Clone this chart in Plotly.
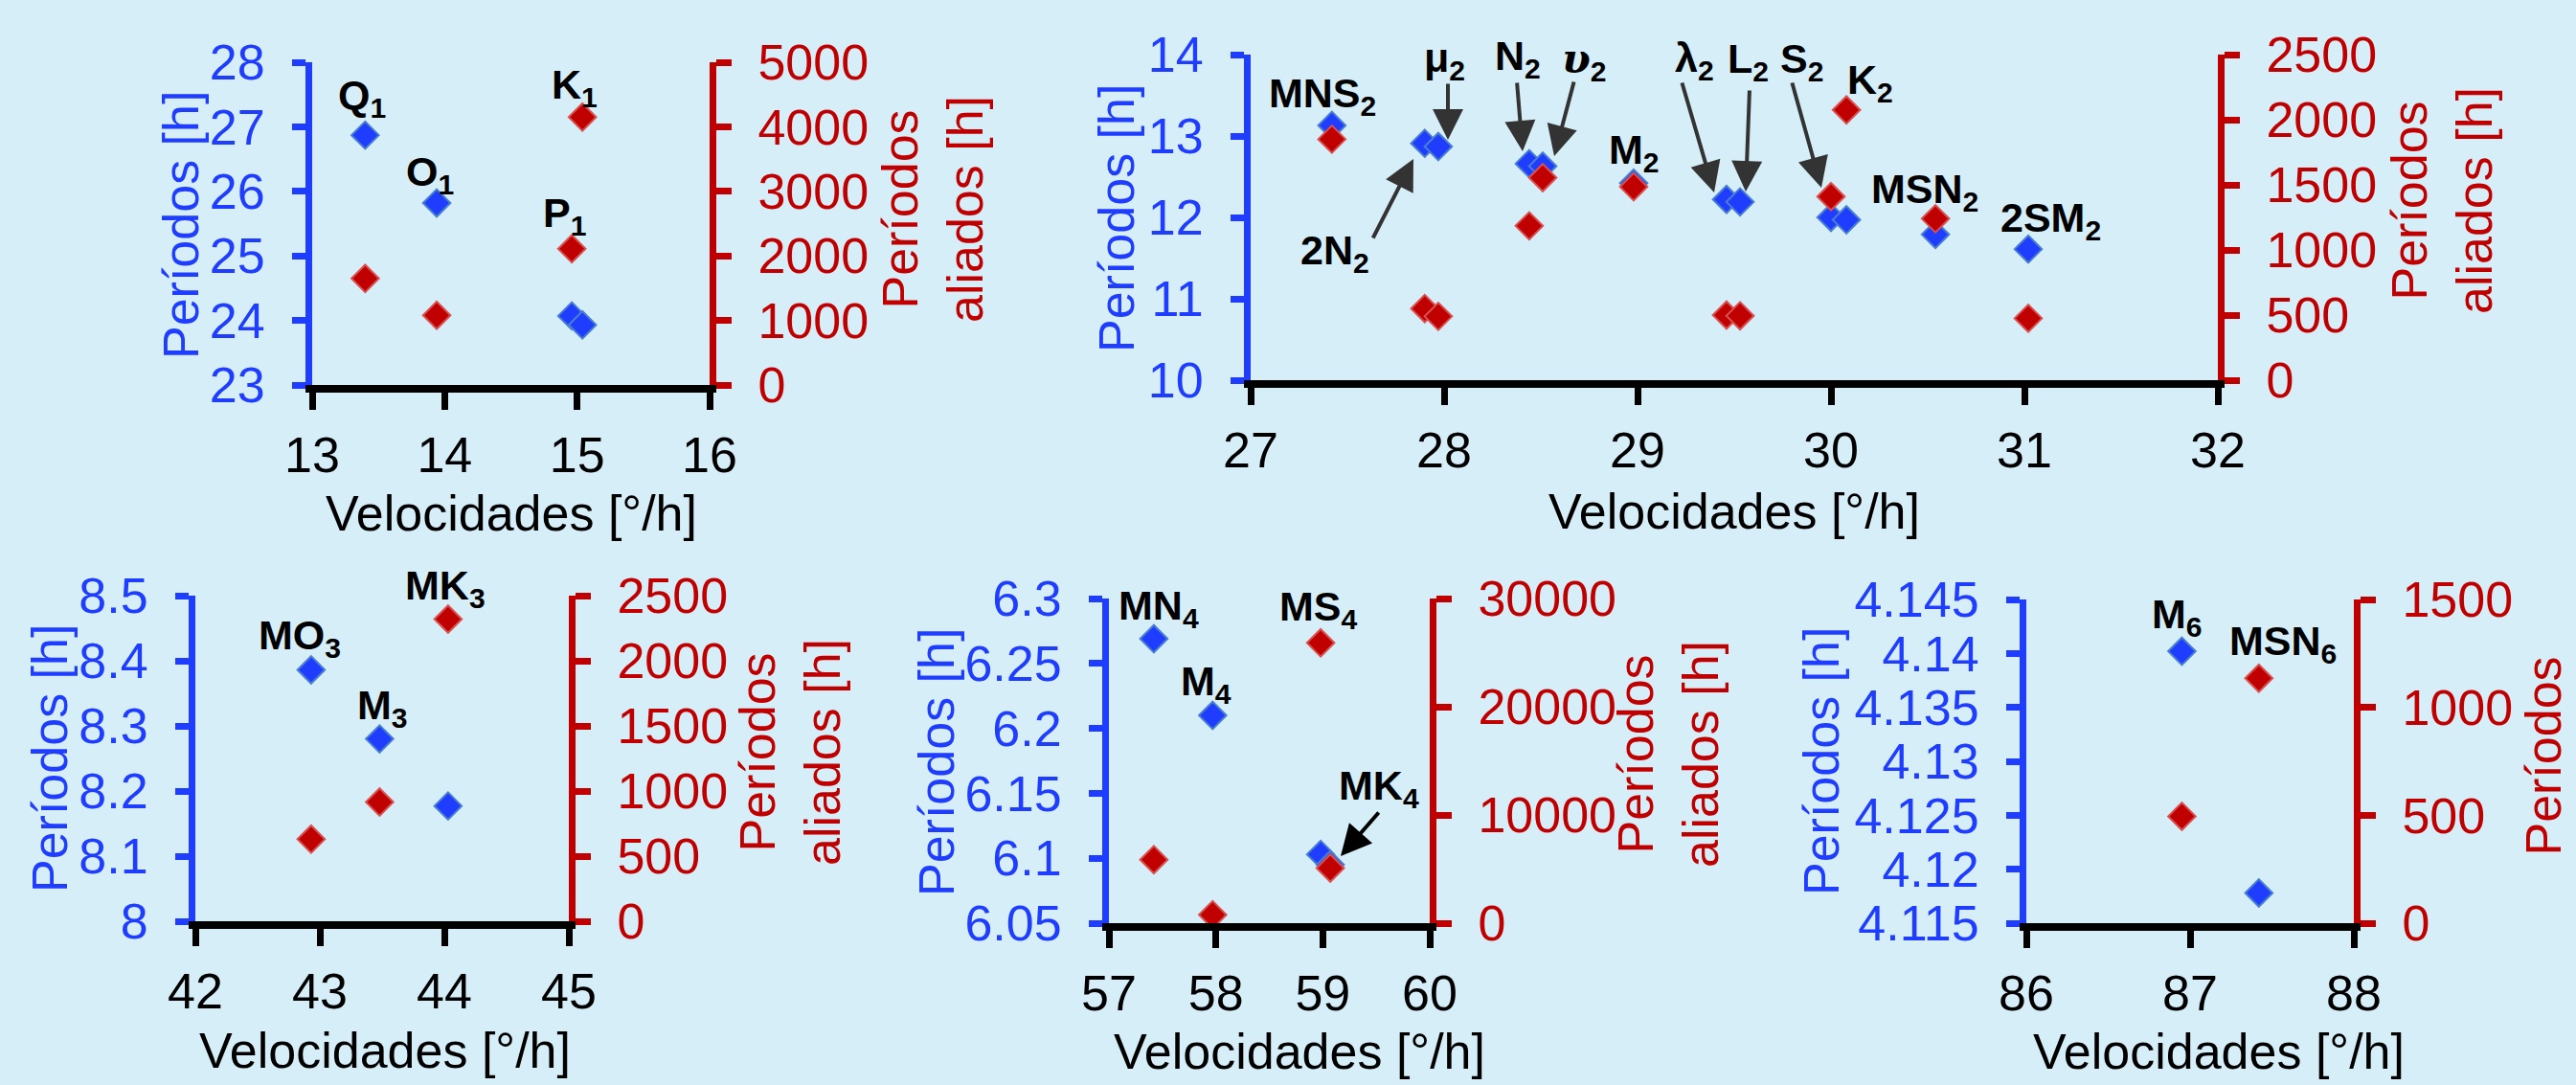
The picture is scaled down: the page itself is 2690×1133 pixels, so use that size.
import plotly.graph_objects as go

W, H = 2690, 1133
BG = '#d6eef8'
BLUE = '#1f3dff'
BLUE_EDGE = '#4a7fd0'
RED = '#c00000'
RED_EDGE = '#d85050'
FONT = 'Arial, Liberation Sans, sans-serif'

# ---------------- data ----------------
# Panel 1: diurnal
p1_names = ['Q<sub>1</sub>', 'O<sub>1</sub>', 'P<sub>1</sub>', 'K<sub>1</sub>']
p1_speed = [13.40, 13.94, 14.96, 15.04]
p1_period = [26.87, 25.82, 24.07, 23.93]
p1_alias = [1650, 1080, 2110, 4150]

# Panel 2: semidiurnal
p2_names = ['MNS<sub>2</sub>', '2N<sub>2</sub>', 'μ<sub>2</sub>', 'N<sub>2</sub>',
            '<span style="font-family:DejaVu Serif"><i>υ</i></span><sub>2</sub>',
            'M<sub>2</sub>', 'λ<sub>2</sub>', 'L<sub>2</sub>', 'S<sub>2</sub>', 'K<sub>2</sub>',
            'MSN<sub>2</sub>', '2SM<sub>2</sub>']
p2_speed = [27.42, 27.90, 27.97, 28.44, 28.51, 28.98, 29.46, 29.53, 30.00, 30.08, 30.54, 31.02]
p2_period = [13.13, 12.91, 12.87, 12.66, 12.63, 12.42, 12.22, 12.19, 12.00, 11.97, 11.79, 11.61]
p2_alias = [1850, 550, 490, 1185, 1555, 1485, 500, 495, 1410, 2075, 1240, 475]

# Panel 3: terdiurnal
p3_names = ['MO<sub>3</sub>', 'M<sub>3</sub>', 'MK<sub>3</sub>']
p3_speed = [42.93, 43.48, 44.03]
p3_period = [8.386, 8.280, 8.177]
p3_alias = [630, 915, 2320]

# Panel 4: quarter-diurnal
p4_names = ['MN<sub>4</sub>', 'M<sub>4</sub>', 'MS<sub>4</sub>', 'MK<sub>4</sub>']
p4_speed = [57.42, 57.97, 58.98, 59.07]
p4_period = [6.269, 6.210, 6.103, 6.095]
p4_alias = [5870, 780, 25900, 5090]

# Panel 5: sixth-diurnal
p5_names = ['M<sub>6</sub>', 'MSN<sub>6</sub>']
p5_speed = [86.95, 87.42]
p5_period = [4.1402, 4.1178]
p5_alias = [495, 1135]

x_title = 'Velocidades [°/h]'
yl_title = 'Períodos [h]'
yr_title = 'Períodos<br>aliados [h]'

panels = [
    dict(speed=p1_speed, period=p1_period, alias=p1_alias,
         xr=[13, 16], xd=1, yr=[23, 28], yd=1, rr=[0, 5000], rd=1000,
         dom_px=(326, 741, 65, 402)),
    dict(speed=p2_speed, period=p2_period, alias=p2_alias,
         xr=[27, 32], xd=1, yr=[10, 14], yd=1, rr=[0, 2500], rd=500,
         dom_px=(1306, 2316, 57, 397)),
    dict(speed=p3_speed, period=p3_period, alias=p3_alias,
         xr=[42, 45], xd=1, yr=[8, 8.5], yd=0.1, rr=[0, 2500], rd=500,
         dom_px=(204, 594, 622, 962)),
    dict(speed=p4_speed, period=p4_period, alias=p4_alias,
         xr=[57, 60], xd=1, yr=[6.05, 6.3], yd=0.05, rr=[0, 30000], rd=10000,
         dom_px=(1158, 1493, 625, 964)),
    dict(speed=p5_speed, period=p5_period, alias=p5_alias,
         xr=[86, 88], xd=1, yr=[4.115, 4.145], yd=0.005, rr=[0, 1500], rd=500,
         dom_px=(2116, 2458, 626, 964)),
]

# layout positions for texts (pixel centres)
label_pos = [
    [(378, 102), (449, 182), (589, 225), (600, 91)],
    [(1381, 100), (1394, 264), (1508, 63), (1585, 61), (1654, 64), (1706, 159),
     (1769, 63), (1825, 64), (1881, 64), (1953, 86), (2010, 200), (2141, 230)],
    [(313, 666), (399, 739), (465, 614)],
    [(1210, 635), (1259, 714), (1377, 636), (1440, 823)],
    [(2273, 644), (2384, 672)],
]
# arrows: (tail_x, tail_y, head_x, head_y, colour)
arrows = [
    (1433, 250, 1476, 166, '#333333'),
    (1512, 86, 1512, 146, '#333333'),
    (1584, 85, 1590, 158, '#333333'),
    (1644, 84, 1623, 163, '#333333'),
    (1756, 85, 1790, 201, '#333333'),
    (1827, 93, 1823, 200, '#333333'),
    (1871, 85, 1902, 196, '#333333'),
    (1441, 847, 1400, 894, '#000000'),
]
xtitle_pos = [(534, 536), (1811, 534), (402, 1097), (1357, 1098), (2317, 1098)]
yl_pos = [(189, 235), (1166, 228), (52, 792), (978, 796), (1902, 795)]
yr_pos = [(974, 219), (2550, 210), (825, 786), (1742, 788), (2690, 790)]


def px(x, y):
    return x / W, 1 - y / H


fig = go.Figure()
layout = dict(
    width=W, height=H, margin=dict(l=0, r=0, t=0, b=0, pad=0, autoexpand=False),
    paper_bgcolor=BG, plot_bgcolor=BG, showlegend=False,
    font=dict(family=FONT, size=52, color='black'),
)
annotations = []

for i, p in enumerate(panels):
    k = i + 1
    xa = 'x' if k == 1 else f'x{k}'
    yb_n = 2 * k - 1
    yr_n = 2 * k
    yb = 'y' if yb_n == 1 else f'y{yb_n}'
    yr = f'y{yr_n}'
    x0, x1, yt, ybm = p['dom_px']
    xdom = [x0 / W, x1 / W]
    ydom = [1 - ybm / H, 1 - yt / H]

    fig.add_trace(go.Scatter(
        x=p['speed'], y=p['period'], xaxis=xa, yaxis=yb, mode='markers',
        marker=dict(symbol='diamond', size=22, color=BLUE,
                    line=dict(color=BLUE_EDGE, width=2)),
        cliponaxis=False))
    fig.add_trace(go.Scatter(
        x=p['speed'], y=p['alias'], xaxis=xa, yaxis=yr, mode='markers',
        marker=dict(symbol='diamond', size=22, color=RED,
                    line=dict(color=RED_EDGE, width=2)),
        cliponaxis=False))

    xkey = 'xaxis' if k == 1 else f'xaxis{k}'
    ybkey = 'yaxis' if yb_n == 1 else f'yaxis{yb_n}'
    yrkey = f'yaxis{yr_n}'
    layout[xkey] = dict(
        domain=xdom, range=p['xr'], dtick=p['xd'], tick0=p['xr'][0],
        anchor=yb, showgrid=False, zeroline=False, automargin=False,
        showline=True, linecolor='black', linewidth=8,
        ticks='outside', ticklen=18, tickwidth=7, tickcolor='black',
        tickfont=dict(size=52, color='black', family=FONT),
        tickformat='d', ticklabelstandoff=3)
    layout[ybkey] = dict(
        domain=ydom, range=p['yr'], dtick=p['yd'], tick0=p['yr'][0],
        anchor=xa, showgrid=False, zeroline=False, automargin=False,
        showline=True, linecolor=BLUE, linewidth=7,
        ticks='outside', ticklen=14, tickwidth=7, tickcolor=BLUE,
        tickfont=dict(size=52, color=BLUE, family=FONT),
        exponentformat='none', ticklabelstandoff=18)
    layout[yrkey] = dict(
        domain=ydom, range=p['rr'], dtick=p['rd'], tick0=0,
        anchor=xa, overlaying=yb, side='right', showgrid=False, zeroline=False,
        automargin=False,
        showline=True, linecolor=RED, linewidth=7,
        ticks='outside', ticklen=16, tickwidth=7, tickcolor=RED,
        tickfont=dict(size=52, color=RED, family=FONT),
        tickformat='d', ticklabelstandoff=17)

    # axis titles
    tx, ty = px(*xtitle_pos[i])
    annotations.append(dict(text=x_title, x=tx, y=ty, xref='paper', yref='paper',
                            showarrow=False, xanchor='center', yanchor='middle',
                            font=dict(size=52, color='black', family=FONT)))
    tx, ty = px(*yl_pos[i])
    annotations.append(dict(text=yl_title, x=tx, y=ty, xref='paper', yref='paper',
                            showarrow=False, xanchor='center', yanchor='middle',
                            textangle=-90,
                            font=dict(size=52, color=BLUE, family=FONT)))
    tx, ty = px(*yr_pos[i])
    annotations.append(dict(text=yr_title, x=tx, y=ty, xref='paper', yref='paper',
                            showarrow=False, xanchor='center', yanchor='middle',
                            textangle=-90,
                            font=dict(size=52, color=RED, family=FONT)))

# constituent labels
names_all = [p1_names, p2_names, p3_names, p4_names, p5_names]
for names, poss in zip(names_all, label_pos):
    for name, (lx, ly) in zip(names, poss):
        tx, ty = px(lx, ly)
        annotations.append(dict(text=f'<b>{name}</b>', x=tx, y=ty,
                                xref='paper', yref='paper', showarrow=False,
                                xanchor='center', yanchor='middle',
                                font=dict(size=43, color='black', family=FONT)))

for (tx0, ty0, hx, hy, col) in arrows:
    x, y = px(hx, hy)
    annotations.append(dict(text='', x=x, y=y, xref='paper', yref='paper',
                            ax=tx0 - hx, ay=ty0 - hy, axref='pixel', ayref='pixel',
                            showarrow=True, arrowhead=2, arrowsize=1.6,
                            arrowwidth=4, arrowcolor=col, standoff=0))

layout['annotations'] = annotations
fig.update_layout(**layout)
fig.write_html('out.html',
               config={'displayModeBar': False},
               post_script="document.body.style.margin='0';"
                           "document.body.style.background='#d6eef8';"
                           "document.documentElement.style.overflow='hidden';")
